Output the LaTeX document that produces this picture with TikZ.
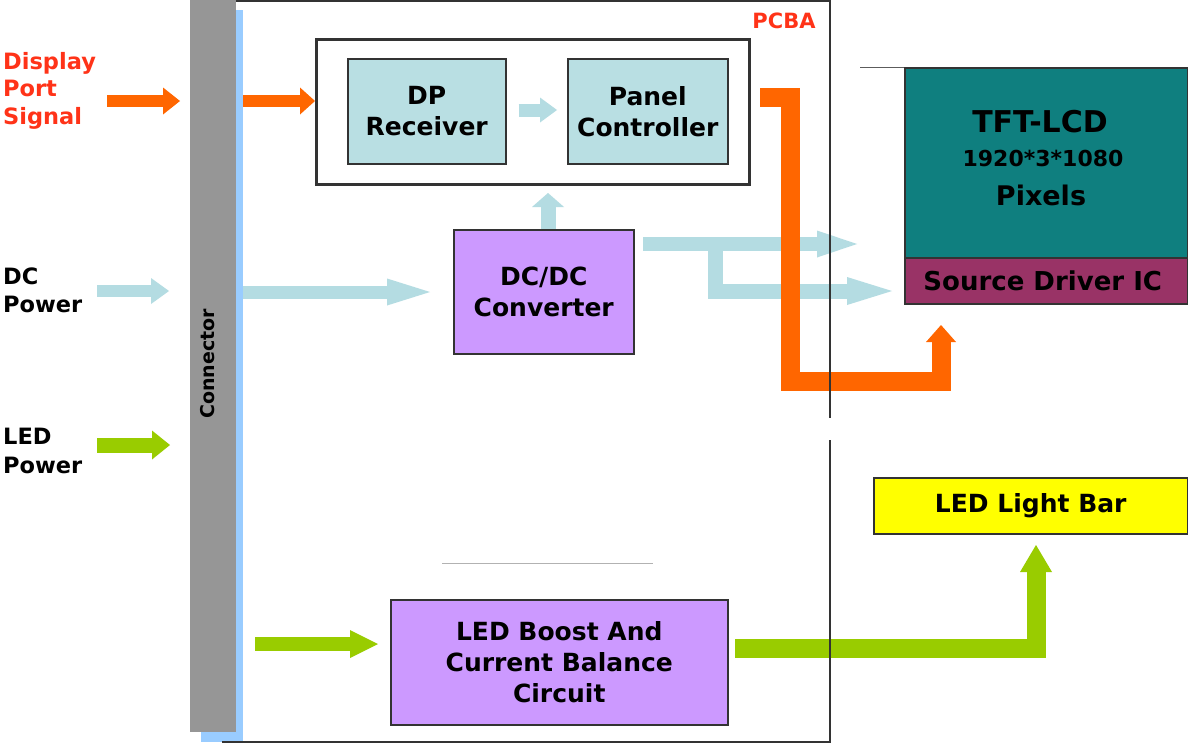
\documentclass[tikz,border=0pt]{standalone}
\usepackage{fontspec}
\setmainfont{DejaVu Sans}
\usetikzlibrary{arrows.meta,calc}
\definecolor{cOrange}{HTML}{FF6600}
\definecolor{cLBlue}{HTML}{B4DCE2}
\definecolor{cBoxBlue}{HTML}{B9DFE3}
\definecolor{cPurple}{HTML}{CC99FF}
\definecolor{cGreen}{HTML}{99CC00}
\definecolor{cGray}{HTML}{969696}
\definecolor{cStrip}{HTML}{99CCFF}
\definecolor{cTeal}{HTML}{0F7F7F}
\definecolor{cMag}{HTML}{993366}
\definecolor{cYellow}{HTML}{FFFF00}
\definecolor{cRed}{HTML}{FF3318}
\definecolor{cEdge}{HTML}{333333}
\newcommand\fsz[2]{\fontsize{#1}{#2}\selectfont}
\begin{document}
\begin{tikzpicture}[x=1pt,y=-1pt,
  blk/.style={draw=cEdge, line width=1.5pt, anchor=north west, inner sep=0pt, align=center, font=\bfseries\fsz{25}{31}},
  lbl/.style={inner sep=0pt, align=left, anchor=north west, font=\bfseries\fsz{22.5}{27.5}},
  fat/.style args={#1/#2/#3/#4}{draw=#1, line width=#2, line join=miter, line cap=butt,
     -{Triangle[length=#3, width=#4, line width=0pt]}},
  thin/.style={line width=1pt}
]
\useasboundingbox (0,0) rectangle (1188,744);
\fill[white] (0,0) rectangle (1188,744);

% connector and its shadow strip
\node[anchor=north west, fill=cStrip, minimum width=42, minimum height=732, inner sep=0pt] (strip) at (201,10) {};
\node[anchor=north west, fill=cGray, minimum width=46, minimum height=732, inner sep=0pt] (conn) at (190,0) {};
\node[rotate=90, inner sep=0pt, font=\bfseries\fsz{19}{23}] (conntxt) at (208,364) {Connector};

% left labels
\node[lbl, text=cRed] (dps) at (3,52) {Display\\Port\\Signal};
\node[lbl] (dcp) at (3,268) {DC\\Power};
\node[lbl, font=\bfseries\fsz{22.5}{28.5}] (ledp) at (3,428) {LED\\Power};
\node[inner sep=0pt, text=cRed, font=\bfseries\fsz{21}{25}] (pcba) at (784,21) {PCBA};

% blocks
\node[blk, line width=3pt, fill=white, minimum width=433, minimum height=145] (grp) at (315,38) {};
\node[blk, fill=cBoxBlue, minimum width=158, minimum height=105] (dp) at (347,58) {DP\\Receiver};
\node[blk, fill=cBoxBlue, minimum width=160, minimum height=105] (pc) at (567,58) {Panel\\Controller};
\node[blk, fill=cPurple, minimum width=180, minimum height=124] (dcdc) at (453,229) {DC/DC\\Converter};
\node[blk, fill=cPurple, minimum width=337, minimum height=125] (boost) at (390,599) {LED Boost And\\Current Balance\\Circuit};
\node[blk, fill=cTeal, minimum width=283, minimum height=190] (tft) at (904,67) {};
\node[inner sep=0pt, font=\bfseries\fsz{30}{34}] (tfttxt) at (1040,122) {TFT-LCD};
\node[inner sep=0pt, font=\bfseries\fsz{22}{26}] (tftres) at (1043,158) {1920*3*1080};
\node[inner sep=0pt, font=\bfseries\fsz{27}{31}] (tftpix) at (1041,195) {Pixels};
\node[blk, fill=cMag, minimum width=283, minimum height=46, font=\bfseries\fsz{26}{30}] (sd) at (904,257) {Source Driver IC\hspace*{7pt}};
\node[blk, fill=cYellow, minimum width=314, minimum height=56, font=\bfseries\fsz{25}{30}] (bar) at (873,477) {LED Light Bar};

% thin grey lines
\draw[thin, gray!60] (442,563) -- (653,563);
\draw[thin, cEdge!80] (860,67) -- (tft.north west);

% named points for connectors
\coordinate (dpsA) at (107,101);
\coordinate (dpsB) at (243,101);
\coordinate (dcA) at (97,291);
\coordinate (dcB) at (243,292);
\coordinate (ledA) at (97,445);
\coordinate (ledB) at (255,644);
\coordinate (up) at (548,229);
\coordinate (r1) at (643,244);
\coordinate (r2) at (715,244);
\coordinate (r1t) at (857,244);
\coordinate (r2t) at (892,291);
\coordinate (o1) at (760,97);
\coordinate (o2) at (790,381);
\coordinate (o3) at (941,325);
\coordinate (g1) at (735,648);
\coordinate (g2) at (1036,545);

% input arrows
\draw[fat=cOrange/12/17/27, shorten >=10] (dpsA) -- (dpsA -| conn.west);
\draw[fat=cOrange/12/15/27] (dpsB) -- (dpsB -| grp.west);
\draw[fat=cLBlue/12/18/26, shorten >=21] (dcA) -- (dcA -| conn.west);
\draw[fat=cLBlue/13/43/27, shorten >=23] (dcB) -- (dcB -| dcdc.west);
\draw[fat=cGreen/15/18/29, shorten >=20] (ledA) -- (ledA -| conn.west);
\draw[fat=cGreen/14/28/28, shorten >=12] (ledB) -- (ledB -| boost.west);

% internal arrows
\draw[fat=cLBlue/13/17/25, shorten <=12, shorten >=10] (dp.east |- 0,110) -- (pc.west |- 0,110);
\draw[fat=cLBlue/15/14/32, shorten >=7] (up) -- (up |- grp.south);
\draw[fat=cLBlue/15/45/28] (r2) |- (r2t);
\draw[fat=cLBlue/14/40/27] (r1) -- (r1t);
\draw[fat=cOrange/19/17/30] (o1) -| (o2) -| (o3);
\draw[fat=cGreen/19/27/32] (g1) -| (g2);

% PCBA frame
\draw[cEdge, line width=1.5pt] (236,1) -- (830,1) -- (830,418);
\draw[cEdge, line width=1.5pt] (830,440) -- (830,742) -- (222,742);
\end{tikzpicture}
\end{document}
